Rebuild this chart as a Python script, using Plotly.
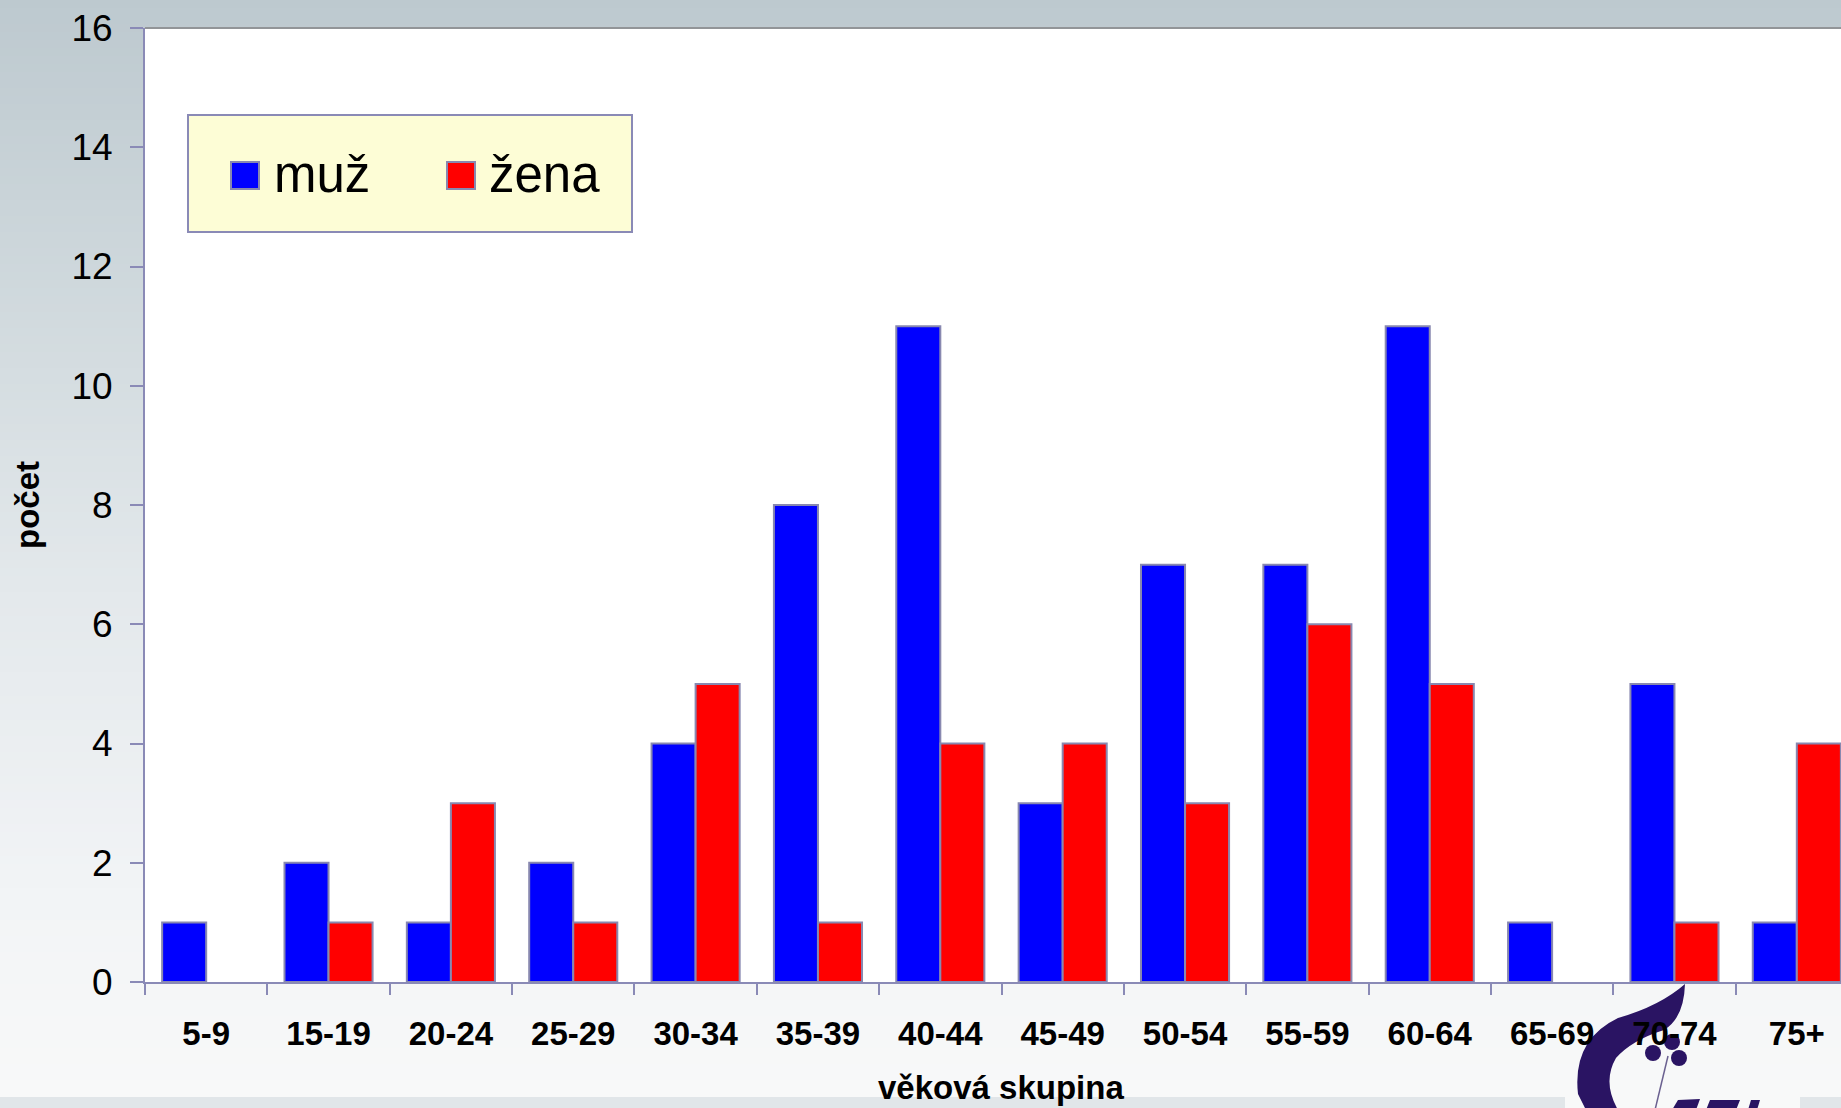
import plotly.graph_objects as go

# ---- data ----
categories = ["5-9", "15-19", "20-24", "25-29", "30-34", "35-39", "40-44",
              "45-49", "50-54", "55-59", "60-64", "65-69", "70-74", "75+"]
muz = [1, 2, 1, 2, 4, 8, 11, 3, 7, 7, 11, 1, 5, 1]
zena = [0, 1, 3, 1, 5, 1, 4, 4, 3, 6, 5, 0, 1, 4]
series_names = ["muž", "žena"]
y_ticks = [0, 2, 4, 6, 8, 10, 12, 14, 16]

# ---- layout geometry (pixels) ----
W, H = 1841, 1108
L, R, T, B = 145, 0, 28, 126
PW, PH = W - L - R, H - T - B
FONT = "Liberation Sans, Arial, sans-serif"
AXIS_COL = "#8a8ab6"
EDGE_COL = "#8888b0"
LOGO_COL = "#2a1463"


def px(xp):
    return (xp - L) / PW


def py(yp):
    return (H - B - yp) / PH


def edge_widths(vals):
    return [2 if v > 0 else 0 for v in vals]


fig = go.Figure()
fig.add_trace(go.Bar(x=categories, y=muz, name=series_names[0],
                     marker=dict(color="#0000ff",
                                 line=dict(color=EDGE_COL, width=edge_widths(muz))),
                     showlegend=False))
fig.add_trace(go.Bar(x=categories, y=zena, name=series_names[1],
                     marker=dict(color="#ff0000",
                                 line=dict(color=EDGE_COL, width=edge_widths(zena))),
                     showlegend=False))

shapes = []
# background gradient (decoration)
stops = [(0, (189, 201, 207)), (300, (208, 217, 221)), (600, (228, 233, 236)),
         (900, (242, 244, 246)), (1097, (248, 249, 249))]


def col_at(y):
    for (y0, c0), (y1, c1) in zip(stops[:-1], stops[1:]):
        if y0 <= y <= y1:
            t = (y - y0) / (y1 - y0)
            return tuple(round(a + (b - a) * t) for a, b in zip(c0, c1))
    return stops[-1][1]


def rect(x0, x1, y0, y1, fill, layer="below", line=None):
    return dict(type="rect", xref="paper", yref="paper", layer=layer,
                x0=px(x0), x1=px(x1), y0=py(y1), y1=py(y0),
                fillcolor=fill, line=line or dict(width=0))


step = 8
for y0 in range(0, 1097, step):
    y1 = min(y0 + step + 1, 1097)
    c = col_at(y0 + step / 2)
    shapes.append(rect(0, W, y0, y1, "rgb(%d,%d,%d)" % c))
# bottom band (interrupted by the logo area)
shapes.append(rect(0, 1565, 1097, H, "#e1e6e9"))
shapes.append(rect(1565, 1800, 1097, H, "#f8f9f9"))
shapes.append(rect(1800, W, 1097, H, "#e1e6e9"))
# white plot area
shapes.append(dict(type="rect", xref="paper", yref="paper", layer="below",
                   x0=0, x1=1, y0=0, y1=1, fillcolor="white", line=dict(width=0)))
# top frame line
shapes.append(dict(type="line", xref="paper", yref="paper", layer="above",
                   x0=0, x1=1, y0=1, y1=1, line=dict(color="#929598", width=2)))


# logo (decoration, partly cut off at the bottom right)
def pth(points):
    out = []
    for cmd, pts in points:
        out.append(cmd + " ".join("%.5f,%.5f" % (px(a), py(b)) for a, b in pts))
    return " ".join(out) + " Z"


swoosh = pth([("M", [(1685, 984)]),
              ("Q", [(1660, 1006), (1618, 1018)]),
              ("Q", [(1572, 1040), (1578, 1094)]),
              ("L", [(1586, 1110)]),
              ("L", [(1618, 1110)]),
              ("Q", [(1602, 1082), (1616, 1058)]),
              ("Q", [(1632, 1040), (1664, 1030)]),
              ("Q", [(1684, 1018), (1685, 984)])])
shapes.append(dict(type="path", xref="paper", yref="paper", layer="below",
                   path=swoosh, fillcolor=LOGO_COL, line=dict(width=0)))
for cx, cy in [(1653, 1053), (1672, 1042), (1679, 1058)]:
    shapes.append(dict(type="circle", xref="paper", yref="paper", layer="below",
                       x0=px(cx - 8), x1=px(cx + 8), y0=py(cy + 8), y1=py(cy - 8),
                       fillcolor=LOGO_COL, line=dict(width=0)))
shapes.append(dict(type="line", xref="paper", yref="paper", layer="below",
                   x0=px(1668), x1=px(1655), y0=py(1056), y1=py(1110),
                   line=dict(color="#6a6090", width=1.5)))
# top of the logo lettering, cut off by the bottom edge
shapes.append(dict(type="path", xref="paper", yref="paper", layer="below",
                   path=pth([("M", [(1672, 1110)]), ("L", [(1678, 1100)]),
                             ("L", [(1700, 1099)]), ("L", [(1696, 1110)])]),
                   fillcolor=LOGO_COL, line=dict(width=0)))
shapes.append(dict(type="path", xref="paper", yref="paper", layer="below",
                   path=pth([("M", [(1706, 1110)]), ("L", [(1710, 1100)]),
                             ("L", [(1740, 1100)]), ("L", [(1736, 1110)])]),
                   fillcolor=LOGO_COL, line=dict(width=0)))
shapes.append(dict(type="path", xref="paper", yref="paper", layer="below",
                   path=pth([("M", [(1748, 1110)]), ("L", [(1751, 1100)]),
                             ("L", [(1760, 1100)]), ("L", [(1757, 1110)])]),
                   fillcolor=LOGO_COL, line=dict(width=0)))

# custom legend
shapes.append(rect(188, 632, 115, 232, "#fdfdd6", layer="above",
                   line=dict(color=AXIS_COL, width=2)))
shapes.append(rect(231, 259, 162, 189, "#0000ff", layer="above",
                   line=dict(color=EDGE_COL, width=2)))
shapes.append(rect(447, 475, 162, 189, "#ff0000", layer="above",
                   line=dict(color=EDGE_COL, width=2)))

annotations = [
    dict(text=series_names[0], xref="paper", yref="paper", x=px(272), y=py(174),
         xanchor="left", yanchor="middle", showarrow=False,
         font=dict(family=FONT, size=51, color="black")),
    dict(text=series_names[1], xref="paper", yref="paper", x=px(487), y=py(174),
         xanchor="left", yanchor="middle", showarrow=False,
         font=dict(family=FONT, size=51, color="black")),
    dict(text="<b>věková skupina</b>", xref="paper", yref="paper", x=px(1001), y=py(1087),
         xanchor="center", yanchor="middle", showarrow=False,
         font=dict(family=FONT, size=33, color="black")),
]

n = len(categories)
x_right = -0.5 + PW / ((1858 - L) / n)

fig.update_layout(
    width=W, height=H,
    margin=dict(l=L, r=R, t=T, b=B, pad=0),
    paper_bgcolor="rgba(0,0,0,0)",
    plot_bgcolor="rgba(0,0,0,0)",
    barmode="group", bargap=0.28, bargroupgap=0,
    shapes=shapes, annotations=annotations,
    font=dict(family=FONT, color="black"),
    xaxis=dict(type="category", range=[-0.5, x_right],
               showline=True, linecolor=AXIS_COL, linewidth=2,
               ticks="outside", tickson="boundaries", ticklen=11, tickwidth=2,
               tickcolor=AXIS_COL, showgrid=False, zeroline=False,
               tickfont=dict(family=FONT, size=33, color="black", weight="bold"),
               ticklabelstandoff=21),
    yaxis=dict(range=[0, 16], tickvals=y_ticks,
               showline=True, linecolor=AXIS_COL, linewidth=2,
               ticks="outside", ticklen=13, tickwidth=2, tickcolor=AXIS_COL,
               showgrid=False, zeroline=False,
               tickfont=dict(family=FONT, size=37, color="black"),
               ticklabelstandoff=10,
               title=dict(text="<b>počet</b>", standoff=22,
                          font=dict(family=FONT, size=33, color="black"))),
)

fig.write_html("out.html", config={"displayModeBar": False},
               post_script="document.body.style.margin='0';document.body.style.overflow='hidden';")
